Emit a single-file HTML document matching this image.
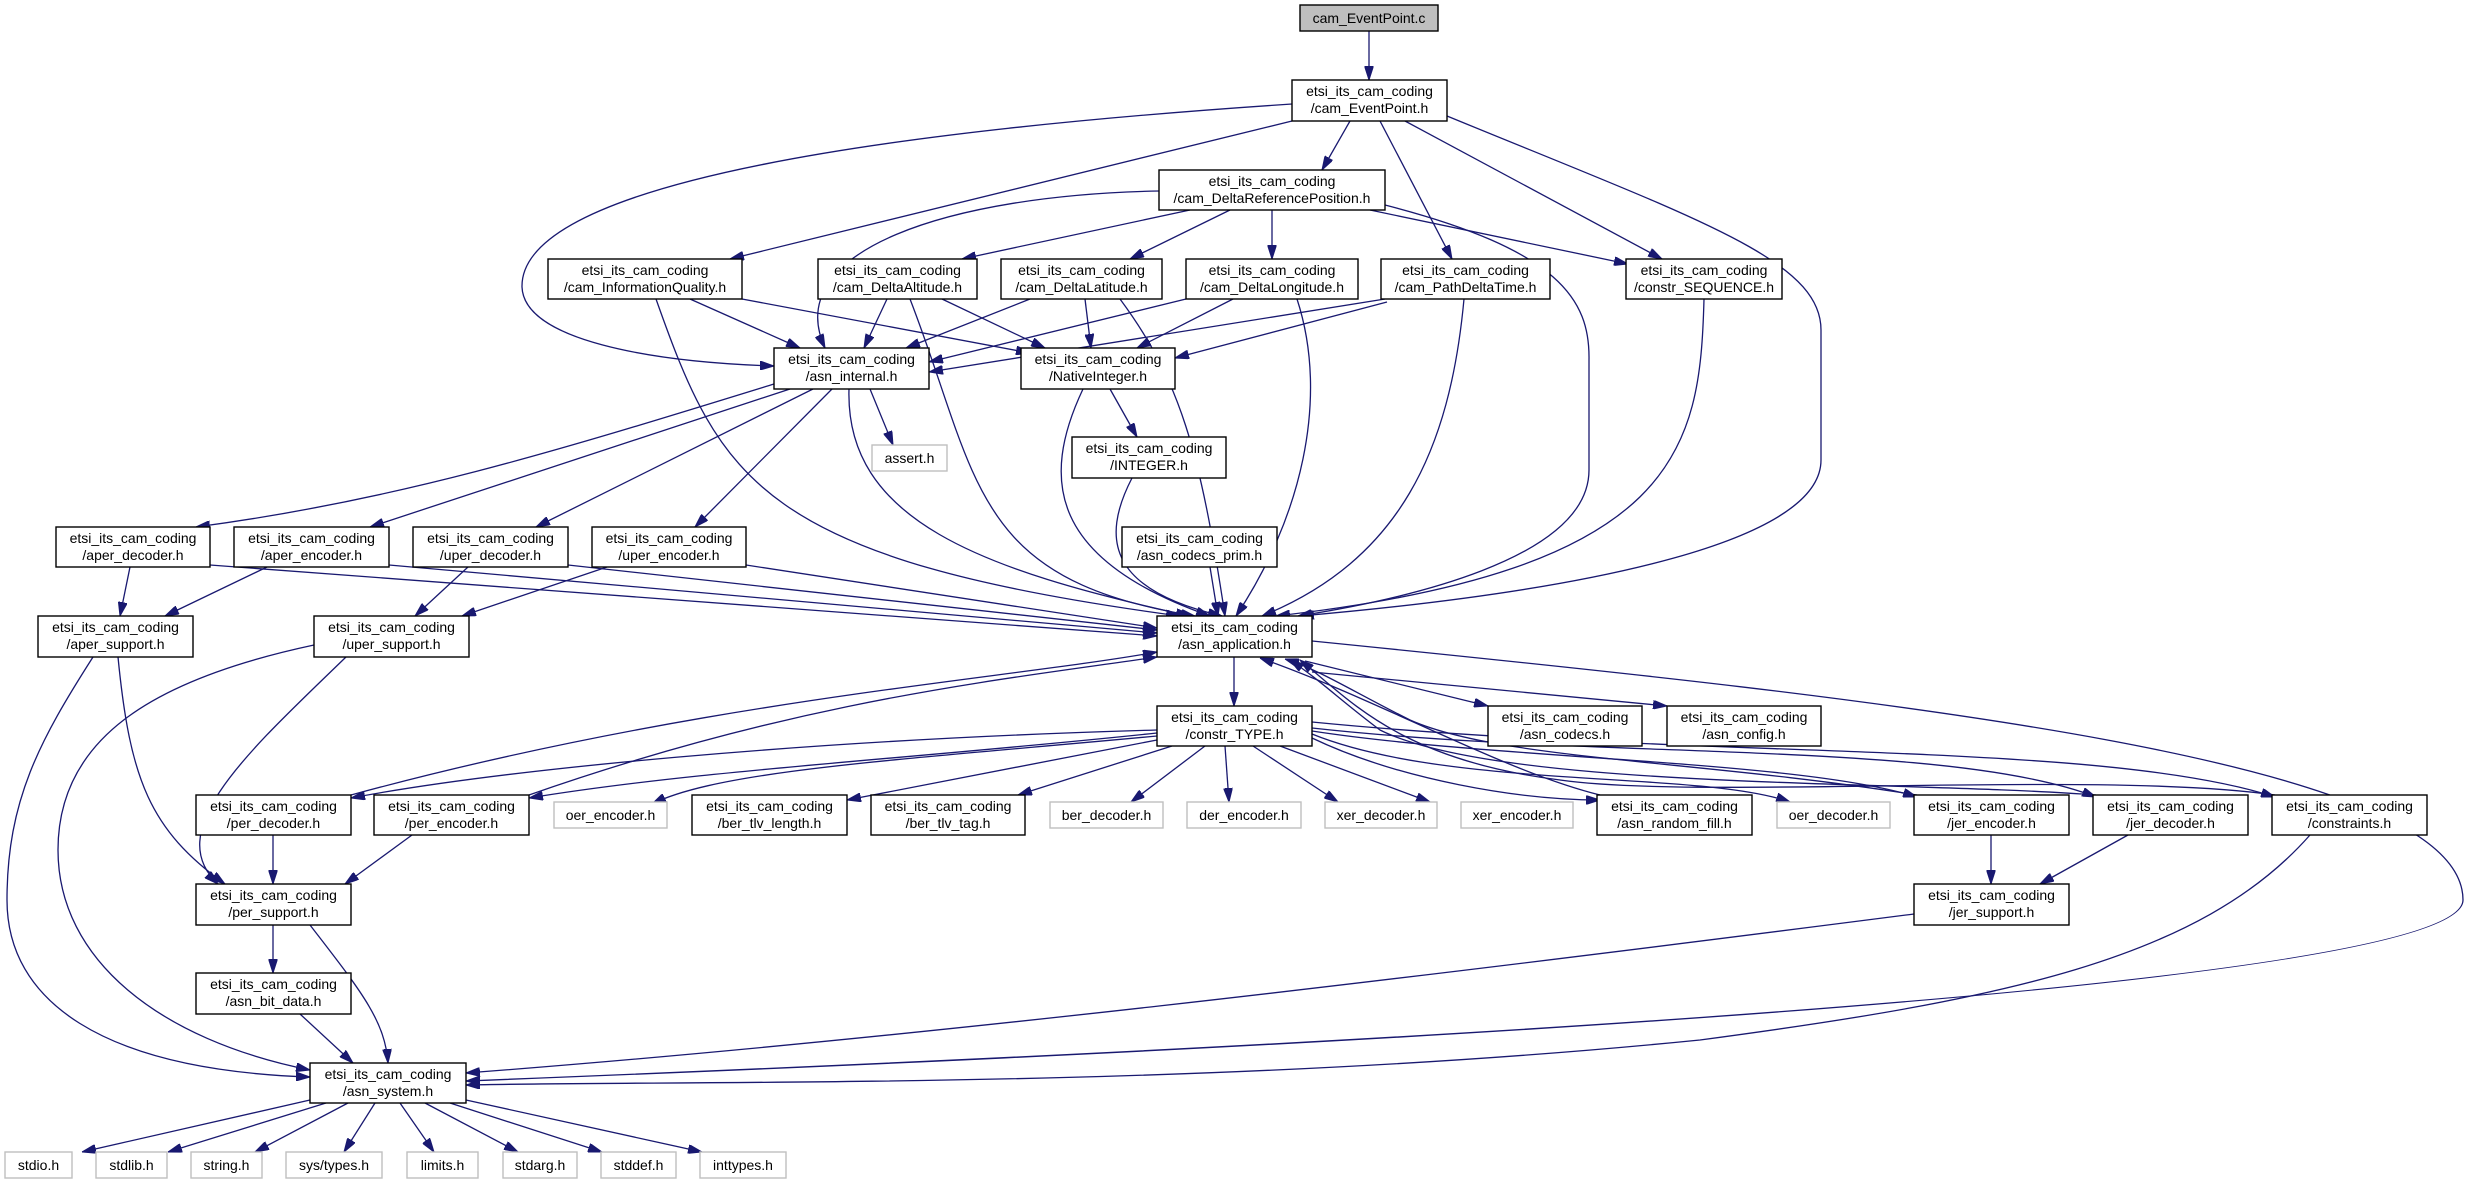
<!DOCTYPE html>
<html><head><meta charset="utf-8"><style>
html,body{margin:0;padding:0;background:#fff;}
svg{display:block;}
text{font-family:"Liberation Sans",sans-serif;font-size:14px;fill:#000;text-anchor:middle;}
.n{fill:#fff;stroke:#000;stroke-width:1.4;}
.g{fill:#fff;stroke:#bfbfbf;stroke-width:1.4;}
.e{fill:none;stroke:#191970;stroke-width:1.3;marker-end:url(#a);}
</style></head><body>
<svg width="2469" height="1184" viewBox="0 0 2469 1184" xmlns="http://www.w3.org/2000/svg">
<defs><marker id="a" markerUnits="userSpaceOnUse" markerWidth="14" markerHeight="9" refX="14" refY="4.5" orient="auto"><path d="M0,0 L14,4.5 L0,9 z" fill="#191970" stroke="#191970"/></marker></defs>

<!-- edges -->
<g>
<path class="e" d="M1369,31 L1369,80"/>
<path class="e" d="M1350,121 L1322,170"/>
<path class="e" d="M1292,121 L730,259"/>
<path class="e" d="M1292,104 C900,130 520,180 522,287 C524,340 650,362 774,366"/>
<path class="e" d="M1380,121 L1452,259"/>
<path class="e" d="M1405,121 L1662,259"/>
<path class="e" d="M1447,116 C1700,220 1821,260 1821,330 L1821,460 C1821,540 1600,590 1300,616"/>
<path class="e" d="M1190,210 L962,259"/>
<path class="e" d="M1230,210 L1130,259"/>
<path class="e" d="M1272,210 L1272,259"/>
<path class="e" d="M1370,210 L1628,264"/>
<path class="e" d="M1159,191 C950,195 780,250 825,348"/>
<path class="e" d="M1385,205 C1560,250 1590,300 1589,360 L1589,470 C1589,560 1400,600 1298,616"/>
<path class="e" d="M690,299 L800,348"/>
<path class="e" d="M742,299 L1030,353"/>
<path class="e" d="M656,299 C720,480 760,560 1180,616"/>
<path class="e" d="M887,299 L864,348"/>
<path class="e" d="M942,299 L1045,348"/>
<path class="e" d="M910,299 C980,480 970,580 1195,616"/>
<path class="e" d="M1030,299 L906,348"/>
<path class="e" d="M1085,299 L1091,348"/>
<path class="e" d="M1120,299 C1180,380 1200,450 1225,616"/>
<path class="e" d="M1186,299 L929,362"/>
<path class="e" d="M1233,299 L1137,348"/>
<path class="e" d="M1297,299 C1330,400 1300,520 1236,616"/>
<path class="e" d="M1385,299 L929,372"/>
<path class="e" d="M1387,302 L1175,358"/>
<path class="e" d="M1464,299 C1450,450 1400,560 1262,616"/>
<path class="e" d="M1704,299 C1700,450 1680,570 1276,616"/>
<path class="e" d="M870,389 L893,445"/>
<path class="e" d="M774,384 C560,450 400,500 196,527"/>
<path class="e" d="M790,389 L370,527"/>
<path class="e" d="M813,389 L536,527"/>
<path class="e" d="M832,389 L695,527"/>
<path class="e" d="M849,389 C845,520 980,570 1190,616"/>
<path class="e" d="M1110,389 L1137,437"/>
<path class="e" d="M1083,389 C1040,480 1050,560 1210,616"/>
<path class="e" d="M1132,478 C1100,540 1110,590 1222,616"/>
<path class="e" d="M1210,567 L1218,616"/>
<path class="e" d="M130,567 L120,616"/>
<path class="e" d="M210,565 L1157,636"/>
<path class="e" d="M267,567 L165,616"/>
<path class="e" d="M389,565 L1157,633"/>
<path class="e" d="M468,567 L415,616"/>
<path class="e" d="M568,565 L1157,630"/>
<path class="e" d="M607,567 L462,616"/>
<path class="e" d="M746,565 L1157,628"/>
<path class="e" d="M118,657 C130,780 150,830 225,884"/>
<path class="e" d="M93,657 C40,740 7,800 7,900 C7,1000 100,1070 310,1077"/>
<path class="e" d="M346,657 C250,750 160,830 218,884"/>
<path class="e" d="M314,645 C150,680 58,740 58,850 C58,960 160,1040 310,1070"/>
<path class="e" d="M1234,657 L1234,706"/>
<path class="e" d="M1305,661 L1488,706"/>
<path class="e" d="M1312,672 L1667,706"/>
<path class="e" d="M1312,641 C1900,700 2463,760 2463,900 C2463,1000 1000,1060 466,1081"/>
<path class="e" d="M1157,730 C800,740 500,770 351,798"/>
<path class="e" d="M1157,733 C900,760 700,770 529,798"/>
<path class="e" d="M1157,736 C900,760 720,770 652,804"/>
<path class="e" d="M1157,740 L847,800"/>
<path class="e" d="M1172,746 L1018,795"/>
<path class="e" d="M1205,746 L1131,802"/>
<path class="e" d="M1225,746 L1229,802"/>
<path class="e" d="M1253,746 L1338,802"/>
<path class="e" d="M1280,746 L1430,802"/>
<path class="e" d="M1312,738 C1400,780 1520,800 1600,800"/>
<path class="e" d="M1312,734 C1450,790 1700,770 1790,802"/>
<path class="e" d="M1312,731 C1500,760 1800,760 1917,797"/>
<path class="e" d="M1312,728 C1600,760 1950,740 2096,797"/>
<path class="e" d="M1312,722 C1700,760 2100,740 2275,797"/>
<path class="e" d="M351,795 C700,700 1000,680 1157,652"/>
<path class="e" d="M529,795 C800,700 1000,680 1157,657"/>
<path class="e" d="M1600,795 C1500,770 1380,700 1260,658"/>
<path class="e" d="M1917,795 C1700,760 1500,760 1410,720 C1350,690 1320,670 1285,659"/>
<path class="e" d="M2096,795 C1900,780 1500,790 1380,730 C1340,700 1320,680 1290,660"/>
<path class="e" d="M2275,795 C2100,770 1700,800 1560,780 C1400,760 1350,700 1300,660"/>
<path class="e" d="M273,835 L273,884"/>
<path class="e" d="M412,835 L345,884"/>
<path class="e" d="M1991,835 L1991,884"/>
<path class="e" d="M2128,835 L2040,884"/>
<path class="e" d="M273,925 L273,973"/>
<path class="e" d="M310,925 C360,990 385,1020 388,1063"/>
<path class="e" d="M300,1014 L353,1063"/>
<path class="e" d="M1914,914 C1400,980 900,1040 466,1073"/>
<path class="e" d="M2310,835 C2200,960 2000,1000 1700,1040 C1200,1090 700,1080 466,1085"/>
<path class="e" d="M310,1100 L82,1152"/>
<path class="e" d="M326,1103 L168,1152"/>
<path class="e" d="M348,1103 L255,1152"/>
<path class="e" d="M375,1103 L344,1152"/>
<path class="e" d="M400,1103 L434,1152"/>
<path class="e" d="M425,1103 L518,1152"/>
<path class="e" d="M450,1103 L602,1152"/>
<path class="e" d="M466,1100 L702,1152"/>
</g>

<!-- nodes -->
<rect x="1300" y="5" width="138" height="26" fill="#bfbfbf" stroke="#000" stroke-width="1.4"/><text x="1369" y="23">cam_EventPoint.c</text>

<rect class="n" x="1292" y="80" width="155" height="41"/><text x="1369.5" y="96">etsi_its_cam_coding</text><text x="1369.5" y="113">/cam_EventPoint.h</text>
<rect class="n" x="1159" y="170" width="226" height="40"/><text x="1272" y="186">etsi_its_cam_coding</text><text x="1272" y="203">/cam_DeltaReferencePosition.h</text>
<rect class="n" x="548" y="259" width="194" height="40"/><text x="645" y="275">etsi_its_cam_coding</text><text x="645" y="292">/cam_InformationQuality.h</text>
<rect class="n" x="818" y="259" width="159" height="40"/><text x="897.5" y="275">etsi_its_cam_coding</text><text x="897.5" y="292">/cam_DeltaAltitude.h</text>
<rect class="n" x="1001" y="259" width="161" height="40"/><text x="1081.5" y="275">etsi_its_cam_coding</text><text x="1081.5" y="292">/cam_DeltaLatitude.h</text>
<rect class="n" x="1186" y="259" width="172" height="40"/><text x="1272" y="275">etsi_its_cam_coding</text><text x="1272" y="292">/cam_DeltaLongitude.h</text>
<rect class="n" x="1381" y="259" width="169" height="40"/><text x="1465.5" y="275">etsi_its_cam_coding</text><text x="1465.5" y="292">/cam_PathDeltaTime.h</text>
<rect class="n" x="1626" y="259" width="156" height="40"/><text x="1704" y="275">etsi_its_cam_coding</text><text x="1704" y="292">/constr_SEQUENCE.h</text>
<rect class="n" x="774" y="348" width="155" height="41"/><text x="851.5" y="364">etsi_its_cam_coding</text><text x="851.5" y="381">/asn_internal.h</text>
<rect class="n" x="1021" y="348" width="154" height="41"/><text x="1098" y="364">etsi_its_cam_coding</text><text x="1098" y="381">/NativeInteger.h</text>
<rect class="g" x="872" y="445" width="75" height="26"/><text x="909.5" y="463">assert.h</text>
<rect class="n" x="1072" y="437" width="154" height="41"/><text x="1149" y="453">etsi_its_cam_coding</text><text x="1149" y="470">/INTEGER.h</text>
<rect class="n" x="56" y="527" width="154" height="40"/><text x="133" y="543">etsi_its_cam_coding</text><text x="133" y="560">/aper_decoder.h</text>
<rect class="n" x="234" y="527" width="155" height="40"/><text x="311.5" y="543">etsi_its_cam_coding</text><text x="311.5" y="560">/aper_encoder.h</text>
<rect class="n" x="413" y="527" width="155" height="40"/><text x="490.5" y="543">etsi_its_cam_coding</text><text x="490.5" y="560">/uper_decoder.h</text>
<rect class="n" x="592" y="527" width="154" height="40"/><text x="669" y="543">etsi_its_cam_coding</text><text x="669" y="560">/uper_encoder.h</text>
<rect class="n" x="1122" y="527" width="155" height="40"/><text x="1199.5" y="543">etsi_its_cam_coding</text><text x="1199.5" y="560">/asn_codecs_prim.h</text>
<rect class="n" x="38" y="616" width="155" height="41"/><text x="115.5" y="632">etsi_its_cam_coding</text><text x="115.5" y="649">/aper_support.h</text>
<rect class="n" x="314" y="616" width="155" height="41"/><text x="391.5" y="632">etsi_its_cam_coding</text><text x="391.5" y="649">/uper_support.h</text>
<rect class="n" x="1157" y="616" width="155" height="41"/><text x="1234.5" y="632">etsi_its_cam_coding</text><text x="1234.5" y="649">/asn_application.h</text>
<rect class="n" x="1157" y="706" width="155" height="40"/><text x="1234.5" y="722">etsi_its_cam_coding</text><text x="1234.5" y="739">/constr_TYPE.h</text>
<rect class="n" x="1488" y="706" width="154" height="40"/><text x="1565" y="722">etsi_its_cam_coding</text><text x="1565" y="739">/asn_codecs.h</text>
<rect class="n" x="1667" y="706" width="154" height="40"/><text x="1744" y="722">etsi_its_cam_coding</text><text x="1744" y="739">/asn_config.h</text>
<rect class="n" x="196" y="795" width="155" height="40"/><text x="273.5" y="811">etsi_its_cam_coding</text><text x="273.5" y="828">/per_decoder.h</text>
<rect class="n" x="374" y="795" width="155" height="40"/><text x="451.5" y="811">etsi_its_cam_coding</text><text x="451.5" y="828">/per_encoder.h</text>
<rect class="g" x="554" y="802" width="113" height="26"/><text x="610.5" y="820">oer_encoder.h</text>
<rect class="n" x="692" y="795" width="155" height="40"/><text x="769.5" y="811">etsi_its_cam_coding</text><text x="769.5" y="828">/ber_tlv_length.h</text>
<rect class="n" x="871" y="795" width="154" height="40"/><text x="948" y="811">etsi_its_cam_coding</text><text x="948" y="828">/ber_tlv_tag.h</text>
<rect class="g" x="1050" y="802" width="113" height="26"/><text x="1106.5" y="820">ber_decoder.h</text>
<rect class="g" x="1187" y="802" width="114" height="26"/><text x="1244" y="820">der_encoder.h</text>
<rect class="g" x="1325" y="802" width="112" height="26"/><text x="1381" y="820">xer_decoder.h</text>
<rect class="g" x="1461" y="802" width="112" height="26"/><text x="1517" y="820">xer_encoder.h</text>
<rect class="n" x="1597" y="795" width="155" height="40"/><text x="1674.5" y="811">etsi_its_cam_coding</text><text x="1674.5" y="828">/asn_random_fill.h</text>
<rect class="g" x="1777" y="802" width="113" height="26"/><text x="1833.5" y="820">oer_decoder.h</text>
<rect class="n" x="1914" y="795" width="155" height="40"/><text x="1991.5" y="811">etsi_its_cam_coding</text><text x="1991.5" y="828">/jer_encoder.h</text>
<rect class="n" x="2093" y="795" width="155" height="40"/><text x="2170.5" y="811">etsi_its_cam_coding</text><text x="2170.5" y="828">/jer_decoder.h</text>
<rect class="n" x="2272" y="795" width="155" height="40"/><text x="2349.5" y="811">etsi_its_cam_coding</text><text x="2349.5" y="828">/constraints.h</text>
<rect class="n" x="196" y="884" width="155" height="41"/><text x="273.5" y="900">etsi_its_cam_coding</text><text x="273.5" y="917">/per_support.h</text>
<rect class="n" x="1914" y="884" width="155" height="41"/><text x="1991.5" y="900">etsi_its_cam_coding</text><text x="1991.5" y="917">/jer_support.h</text>
<rect class="n" x="196" y="973" width="155" height="41"/><text x="273.5" y="989">etsi_its_cam_coding</text><text x="273.5" y="1006">/asn_bit_data.h</text>
<rect class="n" x="310" y="1063" width="156" height="40"/><text x="388" y="1079">etsi_its_cam_coding</text><text x="388" y="1096">/asn_system.h</text>
<rect class="g" x="5" y="1152" width="67" height="26"/><text x="38.5" y="1170">stdio.h</text>
<rect class="g" x="96" y="1152" width="71" height="26"/><text x="131.5" y="1170">stdlib.h</text>
<rect class="g" x="191" y="1152" width="71" height="26"/><text x="226.5" y="1170">string.h</text>
<rect class="g" x="286" y="1152" width="96" height="26"/><text x="334" y="1170">sys/types.h</text>
<rect class="g" x="407" y="1152" width="71" height="26"/><text x="442.5" y="1170">limits.h</text>
<rect class="g" x="503" y="1152" width="74" height="26"/><text x="540" y="1170">stdarg.h</text>
<rect class="g" x="601" y="1152" width="75" height="26"/><text x="638.5" y="1170">stddef.h</text>
<rect class="g" x="700" y="1152" width="86" height="26"/><text x="743" y="1170">inttypes.h</text>
</svg>
</body></html>
